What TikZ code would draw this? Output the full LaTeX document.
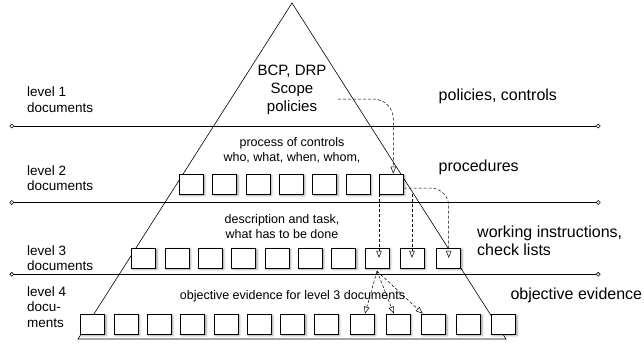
\documentclass[tikz,border=0pt]{standalone}
\usepackage{fontspec}
\setmainfont{Liberation Sans}
\usetikzlibrary{arrows.meta,shadows.blur}

\tikzset{
  docbox/.style={draw, fill=white, line width=0.6pt, minimum width=24pt,
    minimum height=20pt, inner sep=0pt,
    blur shadow={shadow xshift=1.5pt, shadow yshift=-1.5pt,
      shadow blur radius=2pt, shadow opacity=40}},
  levelline/.style={line width=0.6pt,
    {Circle[open,length=4.5pt]}-{Circle[open,length=4.5pt]}},
  dashlink/.style={dash pattern=on 3pt off 2pt, line width=0.5pt,
    -{Triangle[open,length=7pt,width=5.5pt]}},
  leveltext/.style={anchor=west, align=left, inner sep=0pt,
    font=\fontsize{13.5}{15.5}\selectfont},
  kindtext/.style={anchor=west, align=left, inner sep=0pt,
    font=\fontsize{16}{18}\selectfont},
  innertext/.style={align=center, inner sep=0pt,
    font=\fontsize{12.5}{15}\selectfont}
}

\begin{document}
\begin{tikzpicture}[x=1pt, y=-1pt]
\useasboundingbox (0,0) rectangle (644,345);
% pyramid
\draw[line width=0.6pt] (292,3) -- (506,339) -- (78,339) -- cycle;
% level separators
\coordinate (l1w) at (9.5,126);   \coordinate (l1e) at (600.5,126);
\coordinate (l2w) at (9.5,202.5); \coordinate (l2e) at (600.5,202.5);
\coordinate (l3w) at (9.5,274.3); \coordinate (l3e) at (600.5,274.3);
\draw[levelline] (l1w) -- (l1e);
\draw[levelline] (l2w) -- (l2e);
\draw[levelline] (l3w) -- (l3e);
% document boxes
\foreach \x [count=\i] in {191.3,224.7,258,291.3,324.7,358,391.3}
  \node[docbox] (b2-\i) at (\x,184) {};
\foreach \x [count=\i] in {143.7,177,210.3,243.7,277,310.3,343.7,377,412,448.7}
  \node[docbox] (b3-\i) at (\x,257.8) {};
\foreach \x [count=\i] in {92.7,126,159.3,192.7,226,259.3,292.7,326,362,398,433.7,468.7,503.7}
  \node[docbox] (b4-\i) at (\x,324) {};
% texts
\node[leveltext] (lv1) at (27,99.5) {level 1\\documents};
\node[leveltext] (lv2) at (27,178) {level 2\\documents};
\node[leveltext] (lv3) at (27,258) {level 3\\documents};
\node[leveltext] (lv4) at (27,307) {level 4\\docu-\\ments};
\node[kindtext] (pol) at (438.5,96) {policies, controls};
\node[kindtext] (proc) at (438.5,167) {procedures};
\node[kindtext] (work) at (477,241) {working instructions,\\check lists};
\node[kindtext] (evid) at (510.3,295) {objective evidence};
\node[align=center, inner sep=0pt, font=\fontsize{15}{18}\selectfont]
  (bcp) at (292,90) {BCP, DRP\\Scope\\policies};
\node[innertext] (ctrl) at (292,150.5) {process of controls\\who, what, when, whom,};
\node[innertext] (task) at (282,227) {description and task,\\what has to be done};
\node[innertext] (oev) at (292.5,296) {objective evidence for level 3 documents};
% dashed links
\coordinate (bcpout) at (338,99);
\draw[dashlink, rounded corners=20pt] (bcpout) -| ([xshift=2pt]b2-7.north);
\draw[dashlink] (b2-7.south west) -- (b2-7.south west |- b3-8.center);
\draw[dashlink] (b2-7.south -| b3-9.center) -- (b3-9.center);
\draw[dashlink, rounded corners=18pt] ([yshift=-4pt]b2-7.east) -| (b3-10.center);
\draw[dashlink] ([yshift=-3pt]b3-8.south) -- (b4-9);
\draw[dashlink] ([yshift=-3pt]b3-8.south) -- (b4-10);
\draw[dashlink] ([yshift=-3pt]b3-8.south) -- (b4-11);
\end{tikzpicture}
\end{document}
